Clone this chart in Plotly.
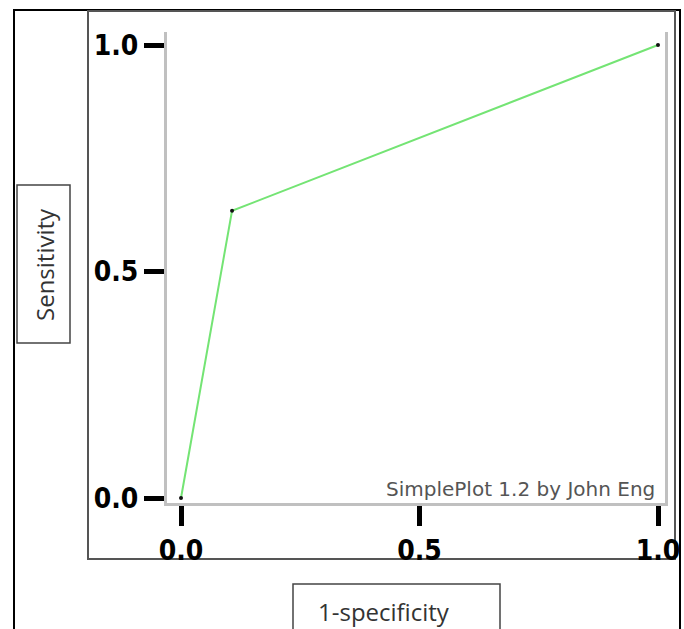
import plotly.graph_objects as go

# Data
fpr = [0.0, 0.107, 1.0]          # 1-specificity
tpr = [0.0, 0.634, 1.0]          # sensitivity
tick_vals = [0.0, 0.5, 1.0]
tick_text = ["0.0", "0.5", "1.0"]
x_title = "1-specificity"
y_title = "Sensitivity"
watermark = "SimplePlot 1.2 by John Eng"

W, H = 684, 629

def px(x):
    return x / W

def py(y):
    return 1 - y / H

def open_box(x0, y0, x1, y1):
    # three-sided box (left, top, right), open at the bottom edge of the page
    return "M {a},{b} L {a},{c} L {d},{c} L {d},{b}".format(a=px(x0), b=py(y1), c=py(y0), d=px(x1))

fig = go.Figure()
fig.add_trace(go.Scatter(
    x=fpr, y=tpr, mode="lines+markers",
    line=dict(color="#74e474", width=2),
    marker=dict(color="#111111", size=4),
    showlegend=False, hoverinfo="skip", cliponaxis=False,
))

tickfont = dict(family="DejaVu Sans Condensed, DejaVu Sans", size=28, color="#000000", weight="bold")

fig.update_layout(
    template="none",
    width=W, height=H, autosize=False,
    margin=dict(l=0, r=0, t=0, b=0, pad=0, autoexpand=False),
    paper_bgcolor="white", plot_bgcolor="white",
    xaxis=dict(
        automargin=False,
        domain=[px(167), px(665)],
        range=[(167 - 181) / 477, 1 + (665 - 658) / 477],
        tickvals=tick_vals, ticktext=tick_text,
        showgrid=False, zeroline=False,
        showline=True, linecolor="#c0c0c0", linewidth=3, mirror=False,
        ticks="outside", ticklen=20, tickwidth=5, tickcolor="#000000",
        tickfont=tickfont,
    ),
    yaxis=dict(
        automargin=False,
        domain=[py(503), py(32)],
        range=[-(503 - 498) / 453, 1 + (45 - 32) / 453],
        tickvals=tick_vals, ticktext=tick_text,
        showgrid=False, zeroline=False,
        showline=True, linecolor="#c0c0c0", linewidth=3, mirror=True,
        ticks="outside", ticklen=20, tickwidth=5, tickcolor="#000000",
        tickfont=tickfont,
    ),
)

shapes = [
    # outer border (open at the bottom of the page)
    dict(type="path", xref="paper", yref="paper", path=open_box(14, 10, 680, 629),
         line=dict(color="#000000", width=2), layer="below"),
    # plot box
    dict(type="rect", xref="paper", yref="paper", x0=px(88), x1=px(675), y0=py(559), y1=py(11),
         line=dict(color="#555555", width=2), layer="below"),
    # y title box
    dict(type="rect", xref="paper", yref="paper", x0=px(17), x1=px(70), y0=py(343), y1=py(185),
         line=dict(color="#444444", width=1.5), layer="below"),
    # x title box (open at the bottom of the page)
    dict(type="path", xref="paper", yref="paper", path=open_box(293, 584, 500, 629),
         line=dict(color="#444444", width=1.5), layer="below"),
]
fig.update_layout(shapes=shapes)

fig.add_annotation(x=px(44), y=py(265), xref="paper", yref="paper", text=y_title,
                   textangle=-90, showarrow=False, xanchor="center", yanchor="middle",
                   font=dict(family="Open Sans", size=24, color="#333333"))
fig.add_annotation(x=px(384), y=py(611), xref="paper", yref="paper", text=x_title,
                   showarrow=False, xanchor="center", yanchor="middle",
                   font=dict(family="Open Sans", size=24, color="#333333"))
fig.add_annotation(x=px(657), y=py(489), xref="paper", yref="paper", text=watermark,
                   showarrow=False, xanchor="right", yanchor="middle",
                   font=dict(family="DejaVu Sans", size=20, color="#555555"))

fig.write_html(
    "out.html",
    config={"displayModeBar": False},
    post_script="document.body.style.margin='0';document.body.style.overflow='hidden';",
)
